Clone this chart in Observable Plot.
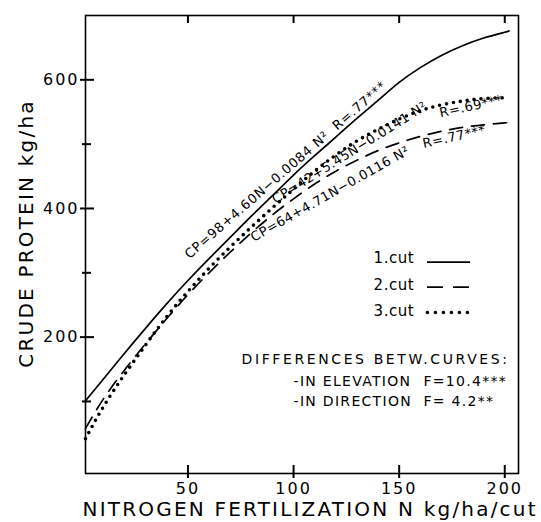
<!DOCTYPE html>
<html><head><meta charset="utf-8">
<script src="https://cdn.jsdelivr.net/npm/d3@7"></script>
<script src="https://cdn.jsdelivr.net/npm/@observablehq/plot@0.6"></script>
<style>
body{margin:0;background:#fff;}
#chart svg{display:block}
</style></head><body><div id="chart"></div>
<script>
// Nitrogen fertilization (kg/ha/cut) and crude protein (kg/ha)
const nitrogen = [1.5, 10, 20, 30, 40, 50, 60, 70, 80, 90, 100, 110, 120, 130, 140, 150, 160, 170, 180, 190, 200, 202];
const cut1 = [101, 135, 175, 214, 252, 288, 322, 355, 388, 420, 452, 482, 511, 540, 568, 596, 619, 638, 653, 665, 674, 676];
const cut2 = [58, 104, 149, 190, 229, 266, 300, 332, 362, 390, 415, 438, 458, 475, 490, 502, 512, 520, 526, 530, 533, 534];
const cut3 = [42, 92, 142, 188, 232, 271, 307, 340, 371, 401, 430, 458, 483, 505, 523, 539, 552, 561, 567, 571, 572, 572];

const xTicks = [50, 100, 150, 200];
const yTicks = [200, 400, 600];
const yMinorTicks = [100, 300, 500];

const cutLabels = ["1.cut", "2.cut", "3.cut"];
const equationLabels = [
  "CP=98+4.60N\u22120.0084 N\u00b2 \u00a0R=.77***",
  "CP=42+5.45N\u22120.0141 N\u00b2",
  "R=.69***",
  "CP=64+4.71N\u22120.0116 N\u00b2",
  "R=.77***"
];
const diffHeader = "DIFFERENCES BETW.CURVES:";
const diffRows = ["-IN ELEVATION", "-IN DIRECTION"];
const diffStats = ["F=10.4***", "F= 4.2**"];
const xTitle = "NITROGEN FERTILIZATION N kg/ha/cut";
const yTitle = "CRUDE PROTEIN kg/ha";

const series = (vals) => nitrogen.map((n, i) => ({n, cp: vals[i]}));
const s1 = series(cut1), s2 = series(cut2), s3 = series(cut3);

// annotation placement in data units
const eqPlace = [
  {n: 50.7, cp: 321, a: -41},
  {n: 91.5, cp: 407, a: -32},
  {n: 169.6, cp: 542, a: -12},
  {n: 81.2, cp: 348, a: -29.5},
  {n: 161.7, cp: 494, a: -12.8}
];
const eqRows = equationLabels.map((t, i) => ({t, ...eqPlace[i]}));
const legendTextCp = [316, 274, 233.6];
const legendLineCp = [316.5, 277.6, 238.3];
const legendRows = cutLabels.map((t, i) => ({t, cp: legendTextCp[i]}));
const diffRowCp = [124.8, 92.2];
const diffRowData = diffRows.map((t, i) => ({t, s: diffStats[i], cp: diffRowCp[i]}));

// layout
const W = 541, H = 522, mL = 85, mR = 23, mT = 15, mB = 49;
const xDomain = [1.5, 206.5], yDomain = [-12, 700];
const pxX = (W - mL - mR) / (xDomain[1] - xDomain[0]);
const pxY = (H - mT - mB) / (yDomain[1] - yDomain[0]);
const tickStyle = {stroke: "#000", strokeWidth: 2};

const chart = Plot.plot({
  width: W, height: H,
  marginLeft: mL, marginRight: mR, marginTop: mT, marginBottom: mB,
  style: {fontFamily: "DejaVu Sans", color: "#000", background: "#fff"},
  x: {domain: xDomain},
  y: {domain: yDomain},
  marks: [
    // tick marks first: crossing the bottom and left edges, inward at the top
    Plot.ruleX(xTicks, {x: d => d, y1: yDomain[0] - 5 / pxY, y2: yDomain[0] + 8 / pxY, ...tickStyle}),
    Plot.ruleX(xTicks, {x: d => d, y1: yDomain[1] - 8 / pxY, y2: yDomain[1], ...tickStyle}),
    Plot.ruleY(yTicks, {y: d => d, x1: xDomain[0] - 5 / pxX, x2: xDomain[0] + 9 / pxX, ...tickStyle}),
    Plot.ruleY(yMinorTicks, {y: d => d, x1: xDomain[0] - 3 / pxX, x2: xDomain[0] + 6 / pxX, ...tickStyle}),
    Plot.frame({stroke: "#000", strokeWidth: 1.6}),
    // tick labels
    Plot.axisX({anchor: "bottom", ticks: xTicks, tickSize: 0, tickPadding: 9, fontSize: 16, label: null}),
    Plot.axisY({anchor: "left", ticks: yTicks, tickSize: 0, tickPadding: 6, fontSize: 16, label: null}),
    // curves
    Plot.line(s1, {x: "n", y: "cp", curve: "natural", stroke: "#000", strokeWidth: 1.7}),
    Plot.line(s2, {x: "n", y: "cp", curve: "natural", stroke: "#000", strokeWidth: 1.7, strokeDasharray: "13 9"}),
    Plot.line(s3, {x: "n", y: "cp", curve: "natural", stroke: "#000", strokeWidth: 3.6, strokeDasharray: "0 7", strokeLinecap: "round"}),
    // equations
    Plot.text(eqRows, {x: "n", y: "cp", text: "t", rotate: "a", textAnchor: "start", lineAnchor: "bottom", fontSize: 13, fill: "#000"}),
    // legend
    Plot.text(legendRows, {x: 137.9, y: "cp", text: "t", textAnchor: "start", lineAnchor: "bottom", fontSize: 15, fill: "#000"}),
    Plot.ruleY([legendLineCp[0]], {x1: 163.4, x2: 183.8, stroke: "#000", strokeWidth: 1.7}),
    Plot.ruleY([legendLineCp[1]], {x1: 163.4, x2: 185.3, stroke: "#000", strokeWidth: 1.7, strokeDasharray: "16 10"}),
    Plot.ruleY([legendLineCp[2]], {x1: 163.6, x2: 183.5, stroke: "#000", strokeWidth: 3.6, strokeDasharray: "0 8", strokeLinecap: "round"}),
    // differences block
    Plot.text([diffHeader], {x: 75.4, y: 159, text: d => d, textAnchor: "start", lineAnchor: "bottom", fontSize: 14, fill: "#000"}),
    Plot.text(diffRowData, {x: 100, y: "cp", text: "t", textAnchor: "start", lineAnchor: "bottom", fontSize: 14, fill: "#000"}),
    Plot.text(diffRowData, {x: 161.5, y: "cp", text: "s", textAnchor: "start", lineAnchor: "bottom", fontSize: 14, fill: "#000"}),
    // axis titles
    Plot.text([xTitle], {frameAnchor: "bottom-left", text: d => d, textAnchor: "start", lineAnchor: "bottom", dx: -3, dy: 42, fontSize: 20, fill: "#000"}),
    Plot.text([yTitle], {frameAnchor: "left", text: d => d, rotate: -90, textAnchor: "middle", lineAnchor: "bottom", dx: -53, dy: -11, fontSize: 20, fill: "#000"})
  ]
});

// letter spacing of the hand lettering (style only)
const spacing = new Map();
const setSp = (arr, v) => arr.forEach(t => spacing.set(String(t), v));
setSp(xTicks, 2); setSp(yTicks, 2);
setSp([xTitle, yTitle], 2.2);
setSp([diffHeader], 2.6);
setSp(diffRows.concat(diffStats), 1.3);
setSp(cutLabels, 0.5);
setSp(equationLabels.slice(1), 0.5);
setSp([equationLabels[0]], 0.8);
d3.select(chart).selectAll("text").each(function() {
  const v = spacing.get(this.textContent);
  if (v != null) this.setAttribute("letter-spacing", v);
});
document.getElementById("chart").appendChild(chart);
</script>
</body></html>
